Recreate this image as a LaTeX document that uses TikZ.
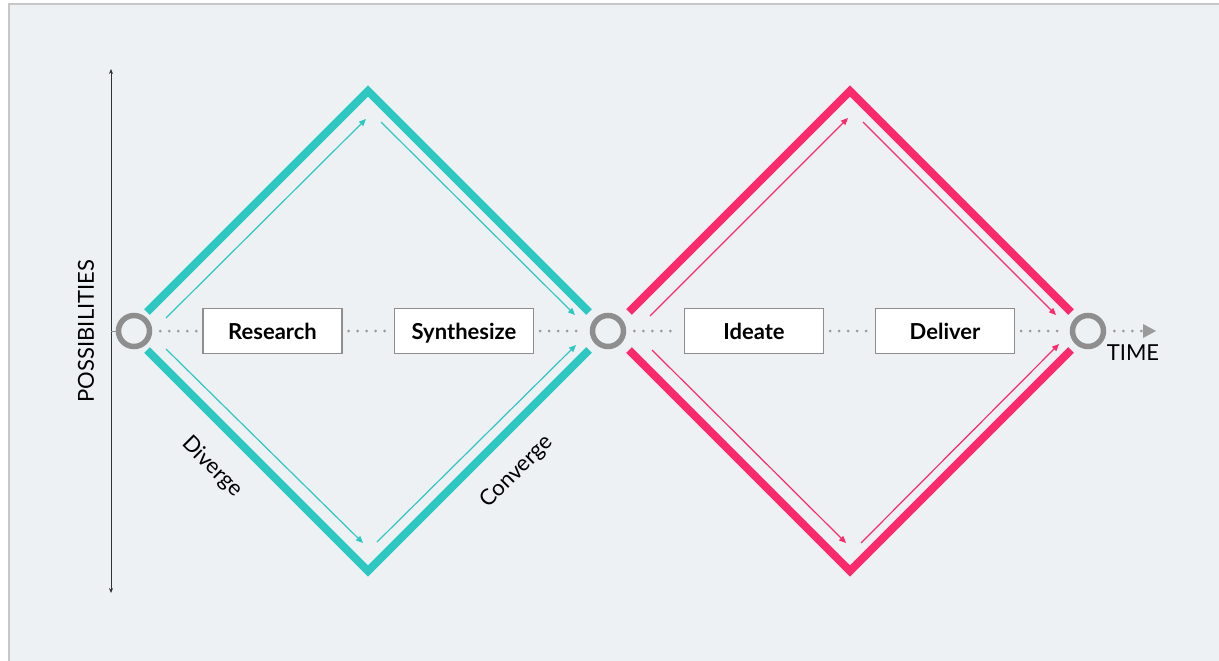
\documentclass[tikz,border=0pt]{standalone}
\usepackage{fontspec}
\setmainfont{Lato}
\usetikzlibrary{arrows.meta,calc}
\definecolor{teal1}{HTML}{2DC8C2}
\definecolor{pink1}{HTML}{FA2A6C}
\definecolor{bgc}{HTML}{EDF1F4}
\definecolor{ringc}{HTML}{8E8E8E}
\definecolor{dotc}{HTML}{9A9A9A}
\tikzset{
  thick band/.style={line width=8pt,line join=miter,miter limit=10},
  thin arrow/.style={line width=1.2pt,-{Triangle[length=7pt,width=6pt]}},
  ring/.style={circle,draw=ringc,line width=5.5pt,minimum size=31pt,inner sep=0pt},
  phase/.style={draw=ringc,line width=1.1pt,fill=white,minimum width=139pt,minimum height=45pt,inner sep=0pt,text height=20pt,text depth=4pt,font=\bfseries\fontsize{22}{26}\selectfont},
  dots/.style={draw=dotc,line width=3pt,line cap=round,dash pattern=on 0pt off 9pt},
  lab/.style={font=\fontsize{22}{26}\selectfont,text=black,inner sep=0pt}
}
\begin{document}
\begin{tikzpicture}[x=1pt,y=-1pt]
\useasboundingbox (0,0) rectangle (1219,661);
\fill[white] (0,0) rectangle (1219,661);
\fill[bgc] (9,4) rectangle (1219,661);
\draw[line width=2.5pt,draw=black!22] (9,661) -- (9,4) -- (1219,4);

% vertices
\coordinate (tL) at (128,331); \coordinate (tT) at (368,91);
\coordinate (tR) at (608,331); \coordinate (tB) at (368,571);
\coordinate (pL) at (610,331); \coordinate (pT) at (850,91);
\coordinate (pR) at (1090,331); \coordinate (pB) at (850,571);

% thick bands
\draw[thick band,teal1] ($(tL)+(19,-19)$) -- (tT) -- ($(tR)+(-19,-19)$);
\draw[thick band,teal1] ($(tL)+(19,19)$) -- (tB) -- ($(tR)+(-19,19)$);
\draw[thick band,pink1] ($(pL)+(19,-19)$) -- (pT) -- ($(pR)+(-19,-19)$);
\draw[thick band,pink1] ($(pL)+(19,19)$) -- (pB) -- ($(pR)+(-19,19)$);

% thin arrows teal
\coordinate (a1s) at (166,318); \coordinate (a1e) at (366,119);
\coordinate (a2s) at (381,122); \coordinate (a2e) at (575,315);
\coordinate (a3s) at (166,349); \coordinate (a3e) at (363,543);
\coordinate (a4s) at (377,542); \coordinate (a4e) at (576,345);
\draw[thin arrow,teal1] (a1s) -- (a1e);
\draw[thin arrow,teal1] (a2s) -- (a2e);
\draw[thin arrow,teal1] (a3s) -- (a3e);
\draw[thin arrow,teal1] (a4s) -- (a4e);
% thin arrows pink
\coordinate (b1s) at (650,316); \coordinate (b1e) at (848,118);
\coordinate (b2s) at (863,122); \coordinate (b2e) at (1056,315);
\coordinate (b3s) at (652,350); \coordinate (b3e) at (846,543);
\coordinate (b4s) at (861,543); \coordinate (b4e) at (1059,344);
\draw[thin arrow,pink1] (b1s) -- (b1e);
\draw[thin arrow,pink1] (b2s) -- (b2e);
\draw[thin arrow,pink1] (b3s) -- (b3e);
\draw[thin arrow,pink1] (b4s) -- (b4e);

% axis
\coordinate (axTop) at (111,69); \coordinate (axBot) at (111,593);
\coordinate (axMid) at (111,331);
\draw[line width=1pt,black!80,{Stealth[length=5pt,width=4pt]}-{Stealth[length=5pt,width=4pt]}] (axTop) -- (axBot);
\node[lab,rotate=90] (poss) at (86,331) {POSSIBILITIES};

% rings
\node[ring] (c1) at (134,331) {};
\node[ring] (c2) at (608,331) {};
\node[ring] (c3) at (1088,331) {};
\draw[line width=1pt,ringc] (axMid) -- (c1.west);

% phase boxes
\node[phase] (res) at (272.5,331) {Research};
\node[phase] (syn) at (464,331) {Synthesize};
\node[phase] (ide) at (754,331) {Ideate};
\node[phase] (del) at (945,331) {Deliver};

% dotted connectors
\draw[dots] ($(c1.east)+(8,0)$) -- ($(res.west)+(-5,0)$);
\draw[dots] ($(res.east)+(6,0)$) -- ($(syn.west)+(-5,0)$);
\draw[dots] ($(syn.east)+(6,0)$) -- ($(c2.west)+(-6,0)$);
\draw[dots] ($(c2.east)+(8,0)$) -- ($(ide.west)+(-5,0)$);
\draw[dots] ($(ide.east)+(6,0)$) -- ($(del.west)+(-5,0)$);
\draw[dots] ($(del.east)+(6,0)$) -- ($(c3.west)+(-6,0)$);
\coordinate (tip) at (1156,331);
\draw[dots] ($(c3.east)+(8,0)$) -- ($(tip)+(-14,0)$);
\fill[dotc] (tip) -- ++(-13,-7) -- ++(0,14) -- cycle;

% labels
\node[lab,anchor=north] (time) at (1133,345) {TIME};
\node[lab,rotate=-45] (div) at (212,467) {Diverge};
\node[lab,rotate=45] (con) at (517,472) {Converge};
\end{tikzpicture}
\end{document}
